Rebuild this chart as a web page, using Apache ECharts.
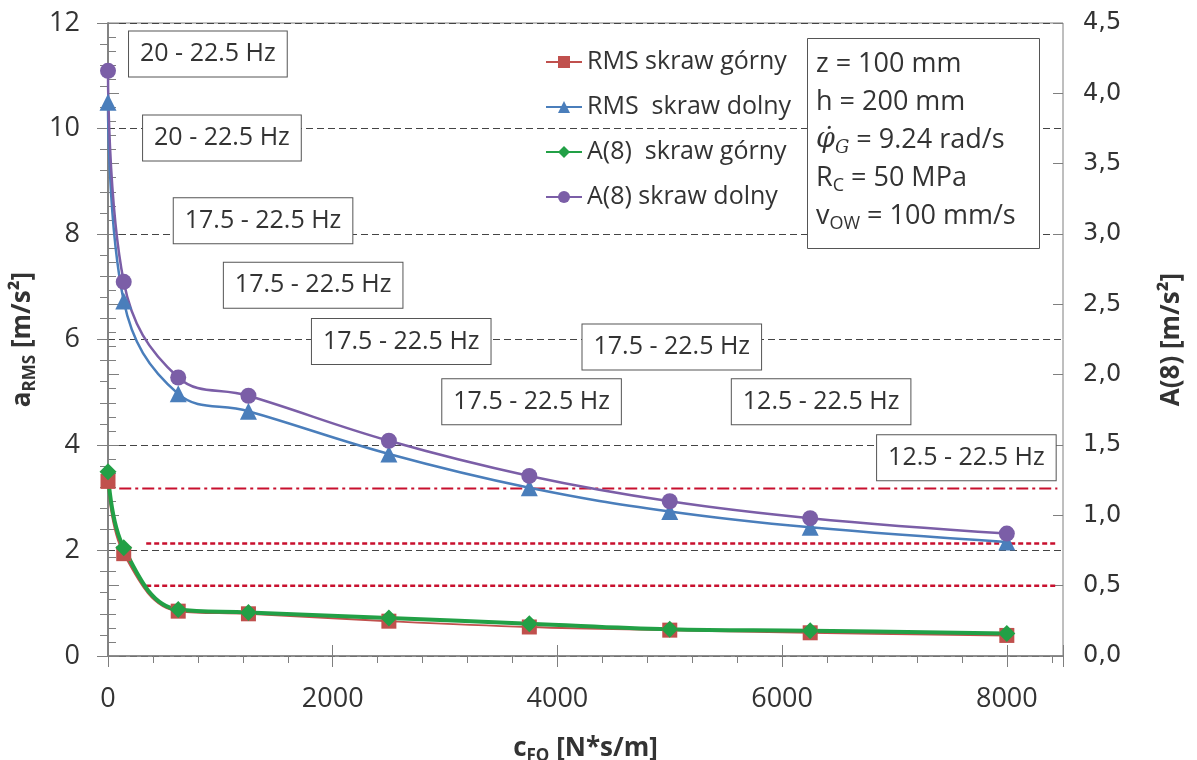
<!DOCTYPE html>
<html>
<head>
<meta charset="utf-8">
<script src="https://cdn.jsdelivr.net/npm/echarts@6/dist/echarts.min.js"></script>
<style>
  html, body { margin: 0; padding: 0; background: #fff; }
  #chart { width: 1197px; height: 760px; }
</style>
</head>
<body>
<div id="chart"></div>
<script>
// c_FO values on the x axis
const cFO = [0, 140, 625, 1250, 2500, 3750, 5000, 6250, 8000]
// a_RMS [m/s2], left axis
const rmsTop = [3.31, 1.94, 0.85, 0.80, 0.66, 0.55, 0.49, 0.44, 0.39]
const rmsBottom = [10.5, 6.73, 4.97, 4.64, 3.83, 3.19, 2.74, 2.44, 2.16]
// A(8) [m/s2], right axis
const a8Top = [1.31, 0.77, 0.33, 0.31, 0.27, 0.23, 0.19, 0.18, 0.16]
const a8Bottom = [4.16, 2.66, 1.98, 1.85, 1.53, 1.28, 1.10, 0.98, 0.87]

// limit lines (right axis)
const limitValues = [1.19, 0.8, 0.5]
const limitFrom = [100, 340, 340]
const limitTo = [8450, 8450, 8450]

// frequency range notes, placed in data units of the left axis
const freqText = ['20 - 22.5 Hz', '20 - 22.5 Hz', '17.5 - 22.5 Hz', '17.5 - 22.5 Hz', '17.5 - 22.5 Hz',
  '17.5 - 22.5 Hz', '17.5 - 22.5 Hz', '12.5 - 22.5 Hz', '12.5 - 22.5 Hz']
const freqX = [889, 1014, 1380, 1826, 2610, 5018, 3770, 6347, 7640]
const freqY = [11.41, 9.82, 8.25, 7.03, 5.96, 5.86, 4.82, 4.82, 3.76]

const seriesNames = ['RMS skraw górny', 'RMS  skraw dolny', 'A(8)  skraw górny', 'A(8) skraw dolny']

const FONT = 'Open Sans'
const AXIS_COLOR = '#7f7f7f'
const TEXT_COLOR = '#333'

const pairs = (xs, ys) => xs.map((x, i) => [x, ys[i]])

const chart = echarts.init(document.getElementById('chart'))

const limitStyles = [
  {type: [12, 4, 3, 4], width: 2},
  {type: [5, 3], width: 2.5},
  {type: [5, 3], width: 2.5},
]
const limitSeries = limitValues.map((v, i) => ({
  name: 'limit' + i,
  type: 'line',
  yAxisIndex: 1,
  symbol: 'none',
  silent: true,
  z: 1,
  data: [[limitFrom[i], v], [limitTo[i], v]],
  lineStyle: {color: '#c8102e', width: limitStyles[i].width, type: limitStyles[i].type}
}))

const dataSeries = [
  {name: seriesNames[0], y: 0, data: rmsTop, symbol: 'rect', size: 15, color: '#c0504d', width: 2},
  {name: seriesNames[1], y: 0, data: rmsBottom, symbol: 'triangle', size: 17, color: '#4a7ebb', width: 2.5},
  {name: seriesNames[2], y: 1, data: a8Top, symbol: 'diamond', size: 17, color: '#22a046', width: 4},
  {name: seriesNames[3], y: 1, data: a8Bottom, symbol: 'circle', size: 16, color: '#7b5ea7', width: 2.5},
].map(s => ({
  name: s.name,
  type: 'line',
  yAxisIndex: s.y,
  smooth: 0.4,
  data: pairs(cFO, s.data),
  symbol: s.symbol,
  symbolSize: s.size,
  z: 3,
  itemStyle: {color: s.color},
  lineStyle: {color: s.color, width: s.width}
}))

const noteSeries = {
  name: 'notes',
  type: 'scatter',
  yAxisIndex: 0,
  symbolSize: 0,
  silent: true,
  z: 5,
  itemStyle: {color: '#fff', opacity: 1},
  data: freqX.map((x, i) => ({value: [x, freqY[i]], name: freqText[i]})),
  label: {
    show: true,
    position: 'inside',
    formatter: p => p.name,
    fontFamily: FONT,
    fontSize: 25,
    color: TEXT_COLOR,
    opacity: 1,
    backgroundColor: '#fff',
    borderColor: '#555',
    borderWidth: 1,
    padding: [10, 11, 10, 11]
  }
}

const nameRich = {
  b: {fontFamily: FONT, fontSize: 26, fontWeight: 'bold', color: TEXT_COLOR, lineHeight: 34},
  s: {fontFamily: FONT, fontSize: 17, fontWeight: 'bold', color: TEXT_COLOR, lineHeight: 34, padding: [14, 0, 0, 0]}
}
const boxRich = {
  n: {fontFamily: FONT, fontWeight: 'normal', fontSize: 27, color: TEXT_COLOR, lineHeight: 38},
  i: {fontFamily: 'DejaVu Serif', fontWeight: 'normal', fontStyle: 'italic', fontSize: 27, color: TEXT_COLOR, lineHeight: 38},
  s: {fontFamily: FONT, fontWeight: 'normal', fontSize: 18, color: TEXT_COLOR, lineHeight: 38, padding: [16, 0, 0, 0]},
  si: {fontFamily: 'DejaVu Serif', fontWeight: 'normal', fontStyle: 'italic', fontSize: 18, color: TEXT_COLOR, lineHeight: 38, padding: [16, 0, 0, 0]}
}

const option = {
  backgroundColor: '#fff',
  animation: false,
  title: {
    left: 807,
    top: 33,
    padding: [12, 24, 16, 9],
    backgroundColor: '#fff',
    borderColor: '#555',
    borderWidth: 1,
    text: [
      '{n|z = 100 mm}',
      '{n|h = 200 mm}',
      '{i|φ̇}{si|G}{n| = 9.24 rad/s}',
      '{n|R}{s|C}{n| = 50 MPa}',
      '{n|v}{s|OW}{n| = 100 mm/s}'
    ].join('\n'),
    textStyle: {rich: boxRich, fontWeight: 'normal', fontFamily: FONT, fontSize: 27}
  },
  legend: {
    data: seriesNames,
    orient: 'vertical',
    left: 545,
    top: 49,
    padding: 0,
    itemGap: 19,
    itemWidth: 36,
    itemHeight: 15,
    textStyle: {fontFamily: FONT, fontSize: 25, color: TEXT_COLOR, lineHeight: 26}
  },
  grid: {
    left: 108,
    right: 134,
    top: 23,
    bottom: 104,
    show: true,
    borderColor: AXIS_COLOR,
    borderWidth: 1,
    outerBoundsMode: 'none'
  },
  xAxis: [
    {
      type: 'value',
      min: 0,
      max: 8500,
      interval: 2000,
      name: '{b|c}{s|FO}{b| [N*s/m]}',
      nameLocation: 'middle',
      nameGap: 76,
      nameTextStyle: {rich: nameRich},
      axisLine: {lineStyle: {color: AXIS_COLOR, width: 1.5}},
      axisTick: {show: true, inside: false, length: 11, lineStyle: {color: AXIS_COLOR}},
      minorTick: {show: true, splitNumber: 5, length: 7, lineStyle: {color: AXIS_COLOR}},
      axisLabel: {
        fontFamily: FONT, fontSize: 27, color: TEXT_COLOR, margin: 30, showMaxLabel: false,
        formatter: v => String(v)
      },
      splitLine: {show: false}
    },
    {
      type: 'value',
      min: 0,
      max: 8500,
      interval: 2000,
      position: 'bottom',
      axisLine: {show: false},
      axisTick: {show: true, inside: true, length: 11, lineStyle: {color: AXIS_COLOR}},
      axisLabel: {show: false},
      splitLine: {show: false}
    }
  ],
  yAxis: [
    {
      type: 'value',
      min: 0,
      max: 12,
      interval: 2,
      position: 'left',
      name: '{b|a}{s|RMS}{b| [m/s²]}',
      nameLocation: 'middle',
      nameRotate: 90,
      nameGap: 62,
      nameTextStyle: {rich: nameRich},
      axisLine: {show: true, lineStyle: {color: AXIS_COLOR, width: 1.5}},
      axisTick: {show: true, inside: false, length: 11, lineStyle: {color: AXIS_COLOR}},
      minorTick: {show: true, splitNumber: 5, length: 8, lineStyle: {color: AXIS_COLOR}},
      axisLabel: {fontFamily: FONT, fontSize: 27, color: TEXT_COLOR, margin: 28},
      splitLine: {show: true, lineStyle: {color: '#444', width: 1, type: [7, 4]}}
    },
    {
      type: 'value',
      min: 0,
      max: 4.5,
      interval: 0.5,
      position: 'right',
      name: 'A(8) [m/s²]',
      nameLocation: 'middle',
      nameRotate: 90,
      nameGap: 96,
      nameTextStyle: {fontFamily: FONT, fontSize: 26, fontWeight: 'bold', color: TEXT_COLOR},
      axisLine: {show: true, lineStyle: {color: AXIS_COLOR, width: 1.5}},
      axisTick: {show: true, inside: false, length: 11, lineStyle: {color: AXIS_COLOR}},
      minorTick: {show: true, splitNumber: 5, length: 8, lineStyle: {color: AXIS_COLOR}},
      axisLabel: {
        fontFamily: 'DejaVu Sans', fontSize: 24, color: TEXT_COLOR, margin: 20,
        formatter: v => v.toFixed(1).replace('.', ',')
      },
      splitLine: {show: false}
    },
    {
      type: 'value',
      min: 0,
      max: 4.5,
      interval: 0.5,
      position: 'right',
      axisLine: {show: false},
      axisTick: {show: true, inside: true, length: 10, lineStyle: {color: AXIS_COLOR}},
      axisLabel: {show: false},
      splitLine: {show: false}
    }
  ],
  series: [...limitSeries, ...dataSeries, noteSeries]
}

chart.setOption(option)
</script>
</body>
</html>
